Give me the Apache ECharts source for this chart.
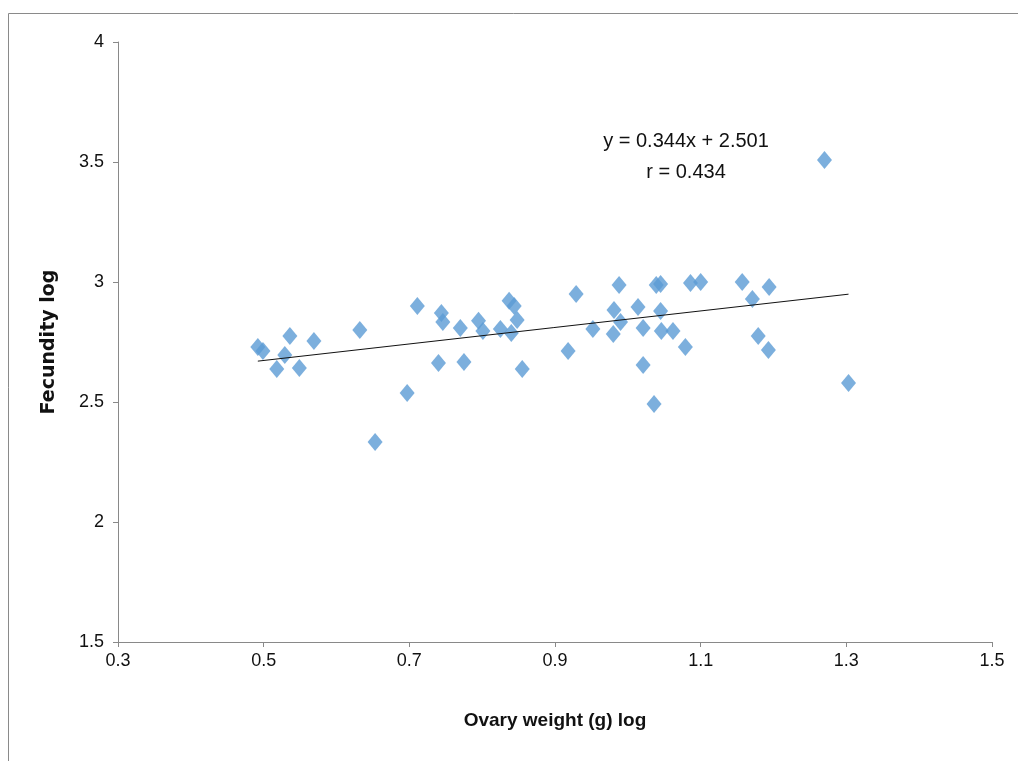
<!DOCTYPE html>
<html>
<head>
<meta charset="utf-8">
<script src="https://cdn.jsdelivr.net/npm/echarts@6/dist/echarts.min.js"></script>
<style>
html,body{margin:0;padding:0;background:#fff;}
#c{width:1018px;height:761px;}
</style>
</head>
<body>
<div id="c"></div>
<script>
// Data
var ovaryWeightLog = [0.492,0.499,0.518,0.529,0.536,0.549,0.569,0.632,0.653,0.697,0.711,0.740,0.744,0.746,0.770,0.775,0.795,0.801,0.825,0.837,0.840,0.844,0.848,0.855,0.918,0.929,0.952,0.980,0.981,0.988,0.990,1.014,1.021,1.021,1.036,1.039,1.045,1.045,1.046,1.062,1.079,1.086,1.100,1.157,1.171,1.179,1.193,1.194,1.270,1.303];
var fecundityLog  = [2.729,2.712,2.638,2.696,2.775,2.642,2.754,2.800,2.333,2.538,2.900,2.663,2.871,2.833,2.808,2.667,2.839,2.796,2.804,2.922,2.788,2.900,2.842,2.638,2.712,2.950,2.804,2.783,2.883,2.988,2.833,2.896,2.808,2.654,2.492,2.988,2.992,2.879,2.796,2.796,2.729,2.996,3.000,3.000,2.929,2.775,2.717,2.979,3.508,2.579];
var slope = 0.344;
var intercept = 2.501;
var equationText = "y = 0.344x + 2.501";
var rText = "r = 0.434";
var xTitle = "Ovary weight (g) log";
var yTitle = "Fecundity log";

var pts = ovaryWeightLog.map(function(x,i){return [x, fecundityLog[i]];});
var xmin = Math.min.apply(null, ovaryWeightLog), xmax = Math.max.apply(null, ovaryWeightLog);
var trend = [[xmin, slope*xmin+intercept],[xmax, slope*xmax+intercept]];

var narrow = "'Liberation Sans Narrow','Arial Narrow','Liberation Sans',sans-serif";
var chart = echarts.init(document.getElementById('c'), null, {renderer:'canvas'});
chart.setOption({
  animation:false,
  backgroundColor:'#fff',
  grid:{left:118, top:42, right:26, bottom:119},
  xAxis:{
    type:'value', min:0.3, max:1.5, interval:0.2,
    axisLine:{lineStyle:{color:'#898989', width:1}},
    axisTick:{show:true, length:5, lineStyle:{color:'#898989'}},
    splitLine:{show:false},
    axisLabel:{color:'#111', fontFamily:narrow, fontSize:18, margin:10,
      formatter:function(v){return (Math.round(v*10)/10).toString();}},
    name:xTitle, nameLocation:'middle', nameGap:69,
    nameTextStyle:{fontFamily:narrow, fontWeight:'bold', fontSize:19, color:'#111'}
  },
  yAxis:{
    type:'value', min:1.5, max:4, interval:0.5,
    axisLine:{show:true, lineStyle:{color:'#898989', width:1}},
    axisTick:{show:true, length:5, lineStyle:{color:'#898989'}},
    splitLine:{show:false},
    axisLabel:{color:'#111', fontFamily:narrow, fontSize:18, margin:14},
    name:yTitle, nameLocation:'middle', nameGap:59, nameRotate:90,
    nameTextStyle:{fontFamily:"'DejaVu Sans',sans-serif", fontWeight:'bold', fontSize:19, color:'#111'}
  },
  graphic:[
    {type:'rect', shape:{x:8.5, y:13.5, width:1020, height:760}, style:{fill:'none', stroke:'#8a8a8a', lineWidth:1}, silent:true, z:-1},
    {type:'text', x:686, y:141, style:{text:equationText, fontFamily:narrow, fontSize:20, fill:'#111', align:'center', verticalAlign:'middle'}},
    {type:'text', x:686, y:172, style:{text:rText, fontFamily:narrow, fontSize:20, fill:'#111', align:'center', verticalAlign:'middle'}}
  ],
  series:[
    {type:'scatter', data:pts, symbol:'diamond', symbolSize:[15,18],
      itemStyle:{color:'#5B9BD5'}, z:2},
    {type:'line', data:trend, symbol:'none', lineStyle:{color:'#111', width:1}, z:3}
  ]
});
</script>
</body>
</html>
